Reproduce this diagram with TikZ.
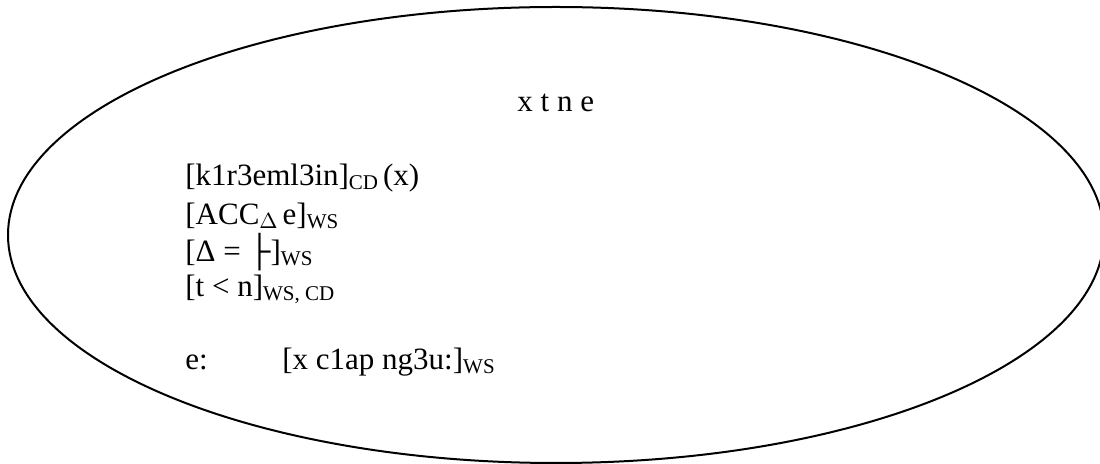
\documentclass[tikz,border=0pt]{standalone}
\usepackage{fontspec}
\setmainfont{Liberation Serif}
% lowered small-size label after a bracket
\newcommand\lowsub[1]{\raisebox{-1.8pt}{\fontsize{10.5}{10.5}\selectfont #1}}
\begin{document}
\begin{tikzpicture}[x=0.5pt,y=-0.5pt,
  txt/.style={anchor=base west, inner sep=0pt, font=\fontsize{15.5}{18}\selectfont},
  frame/.style={draw=black, line width=1pt}]
\useasboundingbox (0,0) rectangle (1100,464);
\begin{scope}
  \clip (0,0) rectangle (1100,464);
  \draw[frame] (556,235) ellipse [x radius=274pt, y radius=114pt];
\end{scope}

\node[txt] (title) at (517,112) {x t n e};
\node[txt] (l1) at (185,186) {[k1r3eml3in]\lowsub{CD}\hspace{2.5pt}(x)};
\node[txt] (l2) at (185,225) {[ACC\lowsub{$\Delta$}\hspace{2.5pt}e]\lowsub{WS}};
\node[txt] (l3) at (185,262) {[Δ = ├]\lowsub{WS}};
\node[txt] (l4) at (185,297) {[t < n]\lowsub{WS, CD}};
\node[txt] (l5) at (185,370) {\makebox[48.5pt][l]{e:}[x c1ap ng3u:]\lowsub{WS}};
\end{tikzpicture}
\end{document}
